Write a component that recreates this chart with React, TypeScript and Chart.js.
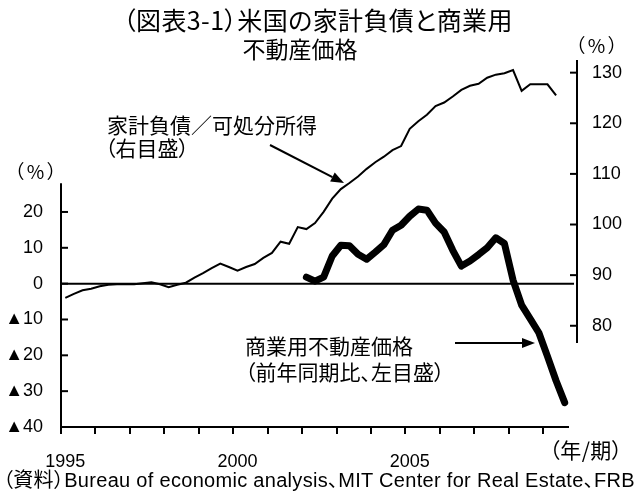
import React, { useEffect, useRef } from "react";
import { Chart, registerables } from "chart.js";

Chart.register(...registerables);

// ---- categories: quarterly, 1995Q1 .. 2009Q3 ----
const years = [1995, 1996, 1997, 1998, 1999, 2000, 2001, 2002, 2003, 2004, 2005, 2006, 2007, 2008, 2009];
const quarterNames = ["1", "2", "3", "4"];
const categories: string[] = years
  .flatMap((y) => quarterNames.map((q) => `${y}/${q}`))
  .slice(0, 59);

// x-axis tick labels (category index -> text)
const xLabelIndex = [0, 20, 40];
const xLabelText = ["1995", "2000", "2005"];

// ---- series ----
// 家計負債／可処分所得 (right axis, %)
const householdDebt: (number | null)[] = [
  85.5, 86.3, 87.0, 87.3, 87.8, 88.1, 88.2, 88.2, 88.2, 88.4,
  88.6, 88.2, 87.6, 88.1, 88.5, 89.5, 90.4, 91.4, 92.3, 91.6,
  90.9, 91.6, 92.2, 93.4, 94.4, 96.6, 96.2, 99.5, 99.1, 100.3,
  102.5, 105.1, 107.0, 108.2, 109.5, 111.0, 112.3, 113.4, 114.7, 115.5,
  118.9, 120.4, 121.7, 123.4, 124.1, 125.3, 126.6, 127.4, 127.8, 129.0,
  129.6, 129.9, 130.5, 126.4, 127.7, 127.7, 127.7, 125.5, null,
];

// 商業用不動産価格 前年同期比 (left axis, %)
const commercialPrice: (number | null)[] = [
  null, null, null, null, null, null, null, null, null, null,
  null, null, null, null, null, null, null, null, null, null,
  null, null, null, null, null, null, null, null, 1.8, 0.7,
  1.8, 7.7, 10.7, 10.6, 8.2, 6.8, 8.8, 10.9, 14.9, 16.3,
  18.8, 20.8, 20.5, 16.9, 14.4, 9.3, 4.9, 6.3, 8.1, 10.0,
  12.8, 11.2, 1.0, -6.0, -9.8, -13.7, -20.3, -27.1, -33.2,
];

// ---- axes ----
const leftTicks = [-40, -30, -20, -10, 0, 10, 20];
const leftTickText = ["▲40", "▲30", "▲20", "▲10", "0", "10", "20"];
const rightTicks = [80, 90, 100, 110, 120, 130];
const leftMin = -40;
const leftMax = 62.4;
const leftAxisTop = 28;
const rightMin = 60;
const rightMax = 132.5;
const rightAxisBottom = 76.6;

const JP = "'Noto Sans CJK JP', 'Noto Sans', sans-serif";
const MIX = "'Liberation Sans', 'Noto Sans CJK JP', sans-serif";
const NUM = "'Liberation Sans', 'DejaVu Sans', sans-serif";

function drawLine(ctx: CanvasRenderingContext2D, x1: number, y1: number, x2: number, y2: number) {
  ctx.beginPath();
  ctx.moveTo(x1, y1);
  ctx.lineTo(x2, y2);
  ctx.stroke();
}

function drawArrow(ctx: CanvasRenderingContext2D, x1: number, y1: number, x2: number, y2: number) {
  const ang = Math.atan2(y2 - y1, x2 - x1);
  const len = 13;
  const half = 5;
  const bx = x2 - len * Math.cos(ang);
  const by = y2 - len * Math.sin(ang);
  ctx.lineWidth = 2;
  drawLine(ctx, x1, y1, bx, by);
  ctx.beginPath();
  ctx.moveTo(x2, y2);
  ctx.lineTo(bx + half * Math.sin(ang), by - half * Math.cos(ang));
  ctx.lineTo(bx - half * Math.sin(ang), by + half * Math.cos(ang));
  ctx.closePath();
  ctx.fill();
}

const decorPlugin = {
  id: "decor",
  beforeDatasetsDraw(chart: any) {
    const { ctx, chartArea: a, scales } = chart;
    const yL = scales.yL;
    ctx.save();
    ctx.strokeStyle = "#000";
    ctx.lineWidth = 2;
    const y0 = yL.getPixelForValue(0);
    drawLine(ctx, a.left, y0, a.right + 5, y0);
    ctx.restore();
  },
  afterDatasetsDraw(chart: any) {
    const { ctx, chartArea: a, scales } = chart;
    const yL = scales.yL;
    const yR = scales.yR;
    const xS = scales.x;
    ctx.save();
    ctx.strokeStyle = "#000";
    ctx.fillStyle = "#000";
    ctx.lineWidth = 2;
    ctx.lineCap = "butt";
    // left axis
    const yb = yL.getPixelForValue(leftMin);
    const yt = yL.getPixelForValue(leftAxisTop);
    drawLine(ctx, a.left, yt, a.left, yb + 1);
    leftTicks.forEach((v) => {
      const y = yL.getPixelForValue(v);
      drawLine(ctx, a.left, y, a.left + 7, y);
    });
    // bottom axis
    drawLine(ctx, a.left, yb, a.right, yb);
    const step = (a.right - a.left) / categories.length;
    for (let k = 0; k < categories.length; k += 4) {
      const xx = Math.round(xS.getPixelForValue(k) - step / 2);
      drawLine(ctx, xx, yb, xx, yb + 7);
    }
    // right axis
    const xr = a.right + 8;
    drawLine(ctx, xr, yR.getPixelForValue(rightMax), xr, yR.getPixelForValue(rightAxisBottom));
    rightTicks.forEach((v) => {
      const y = yR.getPixelForValue(v);
      drawLine(ctx, xr - 7, y, xr, y);
    });
    // annotation arrows
    drawArrow(ctx, 270, 145, 344, 183);
    drawArrow(ctx, 455, 343, 535, 343);
    ctx.restore();
  },
};

function Label(props: {
  x: number;
  y: number;
  size: number;
  children: React.ReactNode;
  align?: "left" | "center";
  family?: string;
  spacing?: number;
}) {
  const { x, y, size, children, align = "left", family = JP, spacing = 0 } = props;
  return (
    <div
      style={{
        position: "absolute",
        left: x,
        top: y,
        transform: align === "center" ? "translate(-50%, -50%)" : "translate(0, -50%)",
        fontFamily: family,
        fontSize: size,
        lineHeight: 1,
        whiteSpace: "nowrap",
        color: "#000",
        letterSpacing: spacing,
        fontFeatureSettings: '"palt" 1',
      }}
    >
      {children}
    </div>
  );
}

export default function App() {
  const canvasRef = useRef<HTMLCanvasElement | null>(null);

  useEffect(() => {
    if (!canvasRef.current) return;
    const chart = new Chart(canvasRef.current, {
      type: "line",
      data: {
        labels: categories,
        datasets: [
          {
            label: "商業用不動産価格（前年同期比、左目盛）",
            data: commercialPrice,
            yAxisID: "yL",
            borderColor: "#000",
            borderWidth: 7,
            pointRadius: 0,
            borderJoinStyle: "round",
            borderCapStyle: "round",
            tension: 0,
            spanGaps: false,
          },
          {
            label: "家計負債／可処分所得（右目盛）",
            data: householdDebt,
            yAxisID: "yR",
            borderColor: "#000",
            borderWidth: 2,
            pointRadius: 0,
            tension: 0,
          },
        ],
      },
      options: {
        animation: false,
        responsive: false,
        maintainAspectRatio: false,
        layout: { padding: { top: 60, left: 0, right: 0, bottom: 0 } },
        plugins: {
          legend: { display: false },
          tooltip: { enabled: false },
          title: { display: false },
        },
        scales: {
          x: {
            type: "category",
            offset: true,
            grid: { display: false, drawTicks: false },
            border: { display: false },
            afterBuildTicks: (s: any) => {
              s.ticks = xLabelIndex.map((v) => ({ value: v }));
            },
            ticks: {
              autoSkip: false,
              maxRotation: 0,
              padding: 24,
              color: "#000",
              font: { family: NUM, size: 18 },
              callback: (v: any) => {
                const i = xLabelIndex.indexOf(Number(v));
                return i >= 0 ? xLabelText[i] : "";
              },
            },
            afterFit: (s: any) => {
              s.height = 70;
            },
          },
          yL: {
            position: "left",
            min: leftMin,
            max: leftMax,
            grid: { display: false, drawTicks: false },
            border: { display: false },
            afterBuildTicks: (s: any) => {
              s.ticks = leftTicks.map((v) => ({ value: v }));
            },
            ticks: {
              padding: 18,
              color: "#000",
              font: { family: NUM, size: 18 },
              callback: (v: any) => {
                const i = leftTicks.indexOf(Number(v));
                return i >= 0 ? leftTickText[i] : "";
              },
            },
            afterFit: (s: any) => {
              s.width = 61;
            },
          },
          yR: {
            position: "right",
            min: rightMin,
            max: rightMax,
            grid: { display: false, drawTicks: false },
            border: { display: false },
            afterBuildTicks: (s: any) => {
              s.ticks = rightTicks.map((v) => ({ value: v }));
            },
            ticks: {
              padding: 23,
              color: "#000",
              font: { family: NUM, size: 18 },
            },
            afterFit: (s: any) => {
              s.width = 66;
            },
          },
        },
      },
      plugins: [decorPlugin],
    } as any);
    return () => chart.destroy();
  }, []);

  return (
    <div style={{ position: "absolute", left: 0, top: 0, width: 635, height: 497, background: "#fff", overflow: "hidden" }}>
      <canvas ref={canvasRef} width={635} height={497} style={{ position: "absolute", left: 0, top: 0, width: 635, height: 497 }} />
      <Label x={318} y={19} size={25} align="center" spacing={0.4}>（図表3-1）米国の家計負債と商業用</Label>
      <Label x={300} y={48} size={23} align="center">不動産価格</Label>
      <Label x={598} y={44} size={19} align="center" spacing={3}>（%）</Label>
      <Label x={37} y={170} size={19} align="center" spacing={3}>（%）</Label>
      <Label x={107} y={124} size={21}>家計負債／可処分所得</Label>
      <Label x={105} y={147} size={21}>（右目盛）</Label>
      <Label x={245} y={345} size={21}>商業用不動産価格</Label>
      <Label x={245} y={371} size={21}>（前年同期比、左目盛）</Label>
      <Label x={586} y={449} size={21} align="center" spacing={0.5}>（年/期）</Label>
      <Label x={3} y={480} size={20} family={MIX} spacing={0.3}>（資料）Bureau of economic analysis、MIT Center for Real Estate、FRB</Label>
    </div>
  );
}
